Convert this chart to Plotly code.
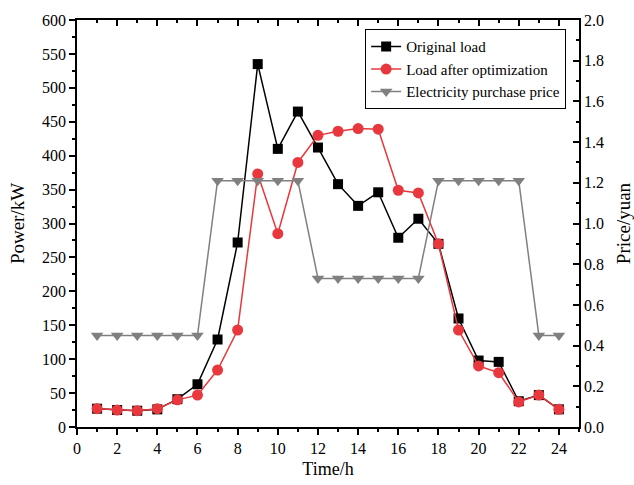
import plotly.graph_objects as go

hours = list(range(1, 25))
original_load = [27, 25, 24, 26, 41, 63, 129, 272, 535, 410, 465, 412,
                 358, 326, 346, 279, 307, 270, 160, 98, 96, 38, 47, 26]
optimized_load = [27, 25, 24, 27, 40, 47, 84, 143, 373, 285, 390, 430,
                  436, 440, 439, 349, 345, 270, 143, 90, 80, 37, 47, 26]
price = [0.45, 0.45, 0.45, 0.45, 0.45, 0.45, 1.21, 1.21, 1.21, 1.21, 1.21, 0.73,
         0.73, 0.73, 0.73, 0.73, 0.73, 1.21, 1.21, 1.21, 1.21, 1.21, 0.45, 0.45]

FONT = "Liberation Serif"
RED = "#e8383d"
GRAY = "#808080"

fig = go.Figure()
fig.add_trace(go.Scatter(x=hours, y=original_load, name="Original load",
                         mode="lines+markers",
                         line=dict(color="black", width=1.5),
                         marker=dict(symbol="square", size=10, color="black")))
fig.add_trace(go.Scatter(x=hours, y=optimized_load, name="Load after optimization",
                         mode="lines+markers",
                         line=dict(color=RED, width=1.5),
                         marker=dict(symbol="circle", size=11, color=RED)))
fig.add_trace(go.Scatter(x=hours, y=price, name="Electricity purchase price",
                         mode="lines+markers", yaxis="y2",
                         line=dict(color=GRAY, width=1.5),
                         marker=dict(symbol="triangle-down", size=11, color=GRAY)))
# invisible trace to activate top mirror axis
fig.add_trace(go.Scatter(x=[0], y=[0], xaxis="x2", showlegend=False,
                         mode="markers", marker=dict(opacity=0), hoverinfo="skip"))

axis_common = dict(showgrid=False, zeroline=False, showline=True, linecolor="black",
                   linewidth=1.5, tickcolor="black", tickwidth=1.5, automargin=False,
                   tickfont=dict(family=FONT, size=16, color="black"))

fig.update_layout(
    width=634, height=485,
    margin=dict(l=77, r=55, t=20, b=58),
    paper_bgcolor="white", plot_bgcolor="white",
    font=dict(family=FONT, color="black"),
    xaxis=dict(range=[0, 25], dtick=2, tick0=0, ticks="outside", ticklen=6,
               minor=dict(dtick=1, ticks="outside", ticklen=3, tickcolor="black", tickwidth=1.5),
               title=dict(text="Time/h", font=dict(family=FONT, size=18), standoff=6),
               **axis_common),
    xaxis2=dict(range=[0, 25], dtick=2, tick0=0, overlaying="x", side="top",
                ticks="inside", ticklen=6, showticklabels=False,
                minor=dict(dtick=1, ticks="inside", ticklen=3, tickcolor="black", tickwidth=1.5),
                **axis_common),
    yaxis=dict(range=[0, 600], dtick=50, ticks="outside", ticklen=6,
               minor=dict(dtick=25, ticks="outside", ticklen=3, tickcolor="black", tickwidth=1.5),
               title=dict(text="Power/kW", font=dict(family=FONT, size=19), standoff=12),
               **axis_common),
    yaxis2=dict(range=[0, 2.0], dtick=0.2, tickformat=".1f", overlaying="y", side="right",
                ticks="inside", ticklen=6,
                minor=dict(dtick=0.1, ticks="inside", ticklen=3, tickcolor="black", tickwidth=1.5),
                title=dict(text="Price/yuan", font=dict(family=FONT, size=19), standoff=14),
                **axis_common),
    legend=dict(x=0.574, y=0.977, xanchor="left", yanchor="top",
                bgcolor="white", bordercolor="black", borderwidth=1,
                font=dict(family=FONT, size=15, color="black"),
                tracegroupgap=0, itemwidth=30),
    showlegend=True,
)

fig.write_html("out.html")
